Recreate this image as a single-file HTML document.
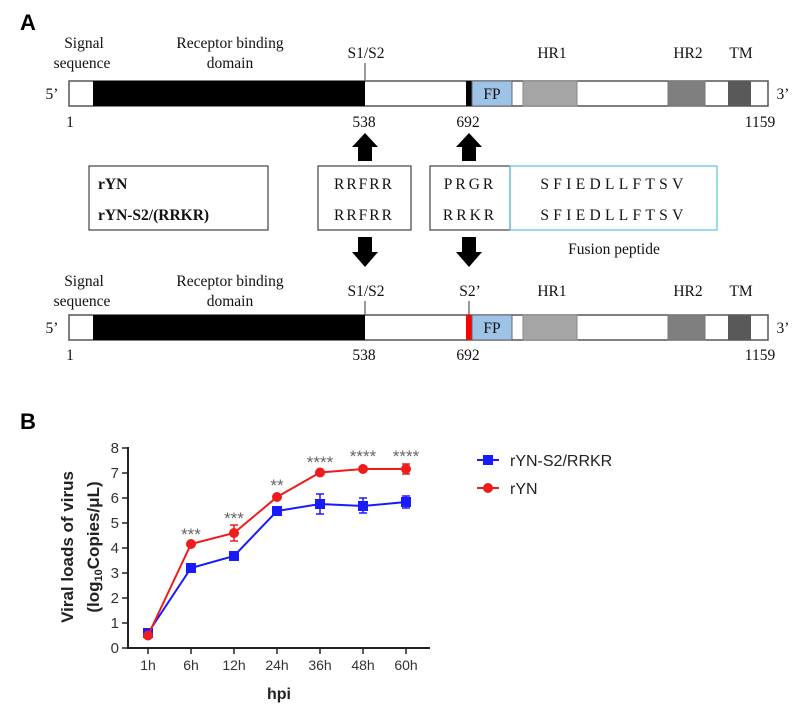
<!DOCTYPE html>
<html><head><meta charset="utf-8"><style>
body{margin:0;background:#fff;}
svg{display:block}
.t{font-family:"Liberation Serif",serif;font-size:15.5px;fill:#111}
.s{font-family:"Liberation Sans",sans-serif}
</style></head><body>
<svg width="800" height="713" viewBox="0 0 800 713" xmlns="http://www.w3.org/2000/svg">
<text x="20" y="30" class="s" font-size="22" font-weight="bold">A</text>
<g id="bar1">
<text x="84" y="48" class="t" text-anchor="middle">Signal</text>
<text x="82" y="68" class="t" text-anchor="middle">sequence</text>
<text x="230" y="48" class="t" text-anchor="middle">Receptor binding</text>
<text x="230" y="68" class="t" text-anchor="middle">domain</text>
<text x="366" y="58" class="t" text-anchor="middle">S1/S2</text>
<text x="552" y="58" class="t" text-anchor="middle">HR1</text>
<text x="688" y="58" class="t" text-anchor="middle">HR2</text>
<text x="741" y="58" class="t" text-anchor="middle">TM</text>
<line x1="365" y1="63" x2="365" y2="81" stroke="#333"/>
<rect x="69" y="81" width="699" height="25" fill="#fff" stroke="#555" stroke-width="1.5"/>
<rect x="93" y="81" width="272" height="25" fill="#000"/>
<rect x="466" y="81" width="6" height="25" fill="#000"/>
<rect x="472" y="81" width="40" height="25" fill="#9dc3e6" stroke="#666"/>
<text x="492" y="99" class="t" text-anchor="middle">FP</text>
<rect x="523" y="81" width="54" height="25" fill="#a5a5a5" stroke="#888"/>
<rect x="668" y="81" width="37" height="25" fill="#7f7f7f" stroke="#777"/>
<rect x="728" y="81" width="23" height="25" fill="#595959"/>
<text x="52" y="99" class="t" text-anchor="middle">5’</text>
<text x="783" y="99" class="t" text-anchor="middle">3’</text>
<text x="70" y="127" class="t" text-anchor="middle">1</text>
<text x="364" y="127" class="t" text-anchor="middle">538</text>
<text x="468" y="127" class="t" text-anchor="middle">692</text>
<text x="760" y="127" class="t" text-anchor="middle">1159</text>
</g>
<path d="M358 161V147H352L365 133L378 147H372V161Z" fill="#000"/>
<path d="M462 161V147H456L469 133L482 147H476V161Z" fill="#000"/>
<rect x="89" y="166" width="179" height="64" fill="none" stroke="#444" stroke-width="1.2"/>
<text x="98" y="189" class="t" font-weight="bold" font-size="16.5">rYN</text>
<text x="98" y="220" class="t" font-weight="bold" font-size="16.5">rYN-S2/(RRKR)</text>
<rect x="318" y="166" width="93" height="64" fill="none" stroke="#444" stroke-width="1.2"/>
<text x="364" y="189" class="t" text-anchor="middle" font-size="16.5" letter-spacing="2">RRFRR</text>
<text x="364" y="220" class="t" text-anchor="middle" font-size="16.5" letter-spacing="2">RRFRR</text>
<rect x="430" y="166" width="80" height="64" fill="none" stroke="#444" stroke-width="1.2"/>
<rect x="510" y="166" width="207" height="64" fill="none" stroke="#5bc0e8" stroke-width="1.2"/>
<text x="470" y="189" class="t" text-anchor="middle" font-size="16.5" letter-spacing="3">PRGR</text>
<text x="470" y="220" class="t" text-anchor="middle" font-size="16.5" letter-spacing="3">RRKR</text>
<text x="614" y="189" class="t" text-anchor="middle" font-size="16.5" letter-spacing="4.3">SFIEDLLFTSV</text>
<text x="614" y="220" class="t" text-anchor="middle" font-size="16.5" letter-spacing="4.3">SFIEDLLFTSV</text>
<text x="614" y="254" class="t" text-anchor="middle" font-size="16.5">Fusion peptide</text>
<path d="M358 237V252H352L365 267L378 252H372V237Z" fill="#000"/>
<path d="M462 237V252H456L469 267L482 252H476V237Z" fill="#000"/>
<g transform="translate(0,234)">
<text x="84" y="52" class="t" text-anchor="middle">Signal</text>
<text x="82" y="72" class="t" text-anchor="middle">sequence</text>
<text x="230" y="52" class="t" text-anchor="middle">Receptor binding</text>
<text x="230" y="72" class="t" text-anchor="middle">domain</text>
<text x="366" y="62" class="t" text-anchor="middle">S1/S2</text>
<text x="470" y="62" class="t" text-anchor="middle">S2’</text>
<text x="552" y="62" class="t" text-anchor="middle">HR1</text>
<text x="688" y="62" class="t" text-anchor="middle">HR2</text>
<text x="741" y="62" class="t" text-anchor="middle">TM</text>
<line x1="365" y1="67" x2="365" y2="81" stroke="#333"/>
<line x1="469" y1="67" x2="469" y2="81" stroke="#333"/>
<rect x="69" y="81" width="699" height="25" fill="#fff" stroke="#555" stroke-width="1.5"/>
<rect x="93" y="81" width="272" height="25" fill="#000"/>
<rect x="466" y="81" width="6" height="25" fill="#ff0000"/>
<rect x="472" y="81" width="40" height="25" fill="#9dc3e6" stroke="#666"/>
<text x="492" y="99" class="t" text-anchor="middle">FP</text>
<rect x="523" y="81" width="54" height="25" fill="#a5a5a5" stroke="#888"/>
<rect x="668" y="81" width="37" height="25" fill="#7f7f7f" stroke="#777"/>
<rect x="728" y="81" width="23" height="25" fill="#595959"/>
<text x="52" y="99" class="t" text-anchor="middle">5’</text>
<text x="783" y="99" class="t" text-anchor="middle">3’</text>
<text x="70" y="126" class="t" text-anchor="middle">1</text>
<text x="364" y="126" class="t" text-anchor="middle">538</text>
<text x="468" y="126" class="t" text-anchor="middle">692</text>
<text x="760" y="126" class="t" text-anchor="middle">1159</text>
</g>
<!-- B chart -->
<text x="20" y="429" class="s" font-size="22" font-weight="bold">B</text>
<g class="s" font-size="14" fill="#333">
<line x1="128" y1="447" x2="128" y2="648" stroke="#222" stroke-width="2"/>
<line x1="127" y1="648" x2="430" y2="648" stroke="#222" stroke-width="2"/>
<g stroke="#222" stroke-width="1.5">
<line x1="122" y1="648" x2="128" y2="648"/><line x1="122" y1="623" x2="128" y2="623"/>
<line x1="122" y1="598" x2="128" y2="598"/><line x1="122" y1="573" x2="128" y2="573"/>
<line x1="122" y1="548" x2="128" y2="548"/><line x1="122" y1="523" x2="128" y2="523"/>
<line x1="122" y1="498" x2="128" y2="498"/><line x1="122" y1="473" x2="128" y2="473"/>
<line x1="122" y1="448" x2="128" y2="448"/>
<line x1="148" y1="648" x2="148" y2="654"/><line x1="191" y1="648" x2="191" y2="654"/>
<line x1="234" y1="648" x2="234" y2="654"/><line x1="277" y1="648" x2="277" y2="654"/>
<line x1="320" y1="648" x2="320" y2="654"/><line x1="363" y1="648" x2="363" y2="654"/>
<line x1="406" y1="648" x2="406" y2="654"/>
</g>
<g text-anchor="end" font-size="15"><text x="119" y="653">0</text><text x="119" y="628">1</text><text x="119" y="603">2</text><text x="119" y="578">3</text><text x="119" y="553">4</text><text x="119" y="528">5</text><text x="119" y="503">6</text><text x="119" y="478">7</text><text x="119" y="453">8</text></g>
<g text-anchor="middle"><text x="148" y="670">1h</text><text x="191" y="670">6h</text><text x="234" y="670">12h</text><text x="277" y="670">24h</text><text x="320" y="670">36h</text><text x="363" y="670">48h</text><text x="406" y="670">60h</text></g>
<text x="279" y="699" text-anchor="middle" font-weight="bold" font-size="16" fill="#222">hpi</text>
<text transform="translate(73,547) rotate(-90)" text-anchor="middle" font-weight="bold" font-size="17" fill="#222">Viral loads of  virus</text>
<text transform="translate(99,547) rotate(-90)" text-anchor="middle" font-weight="bold" font-size="17" fill="#222">(log<tspan font-size="11" dy="3">10</tspan><tspan dy="-3">Copies/μL)</tspan></text>
<polyline points="148,633 191,568 234,556 277,511 320,504 363,506 406,502" fill="none" stroke="#1a1aff" stroke-width="2"/>
<g stroke="#1a1aff" stroke-width="1.5"><line x1="320" y1="494" x2="320" y2="514"/><line x1="316" y1="494" x2="324" y2="494"/><line x1="316" y1="514" x2="324" y2="514"/>
<line x1="363" y1="498" x2="363" y2="513"/><line x1="359" y1="498" x2="367" y2="498"/><line x1="359" y1="513" x2="367" y2="513"/>
<line x1="406" y1="496" x2="406" y2="508"/><line x1="402" y1="496" x2="410" y2="496"/><line x1="402" y1="508" x2="410" y2="508"/></g>
<g fill="#1a1aff"><rect x="143" y="628" width="10" height="10"/><rect x="186" y="563" width="10" height="10"/><rect x="229" y="551" width="10" height="10"/><rect x="272" y="506" width="10" height="10"/><rect x="315" y="499" width="10" height="10"/><rect x="358" y="501" width="10" height="10"/><rect x="401" y="497" width="10" height="10"/></g>
<polyline points="148,635.5 191,544 234,533 277,497 320,472.5 363,469 406,469" fill="none" stroke="#ee1c1c" stroke-width="2"/>
<g stroke="#ee1c1c" stroke-width="1.5"><line x1="234" y1="525" x2="234" y2="541"/><line x1="230" y1="525" x2="238" y2="525"/><line x1="230" y1="541" x2="238" y2="541"/><line x1="406" y1="464" x2="406" y2="474"/><line x1="402" y1="464" x2="410" y2="464"/><line x1="402" y1="474" x2="410" y2="474"/></g>
<g fill="#ee1c1c"><circle cx="148" cy="635.5" r="5"/><circle cx="191" cy="544" r="5"/><circle cx="234" cy="533" r="5"/><circle cx="277" cy="497" r="5"/><circle cx="320" cy="472.5" r="5"/><circle cx="363" cy="469" r="5"/><circle cx="406" cy="469" r="5"/></g>
<g fill="#666" text-anchor="middle" font-size="17"><text x="191" y="540">***</text><text x="234" y="524">***</text><text x="277" y="491">**</text><text x="320" y="468">****</text><text x="363" y="462">****</text><text x="406" y="462">****</text></g>
<line x1="477" y1="460" x2="499" y2="460" stroke="#1a1aff" stroke-width="2"/><rect x="483" y="455" width="10" height="10" fill="#1a1aff"/>
<text x="510" y="466" font-size="16" fill="#222">rYN-S2/RRKR</text>
<line x1="477" y1="488" x2="499" y2="488" stroke="#ee1c1c" stroke-width="2"/><circle cx="488" cy="488" r="5" fill="#ee1c1c"/>
<text x="510" y="494" font-size="16" fill="#222">rYN</text>
</g>
</svg>
</body></html>
